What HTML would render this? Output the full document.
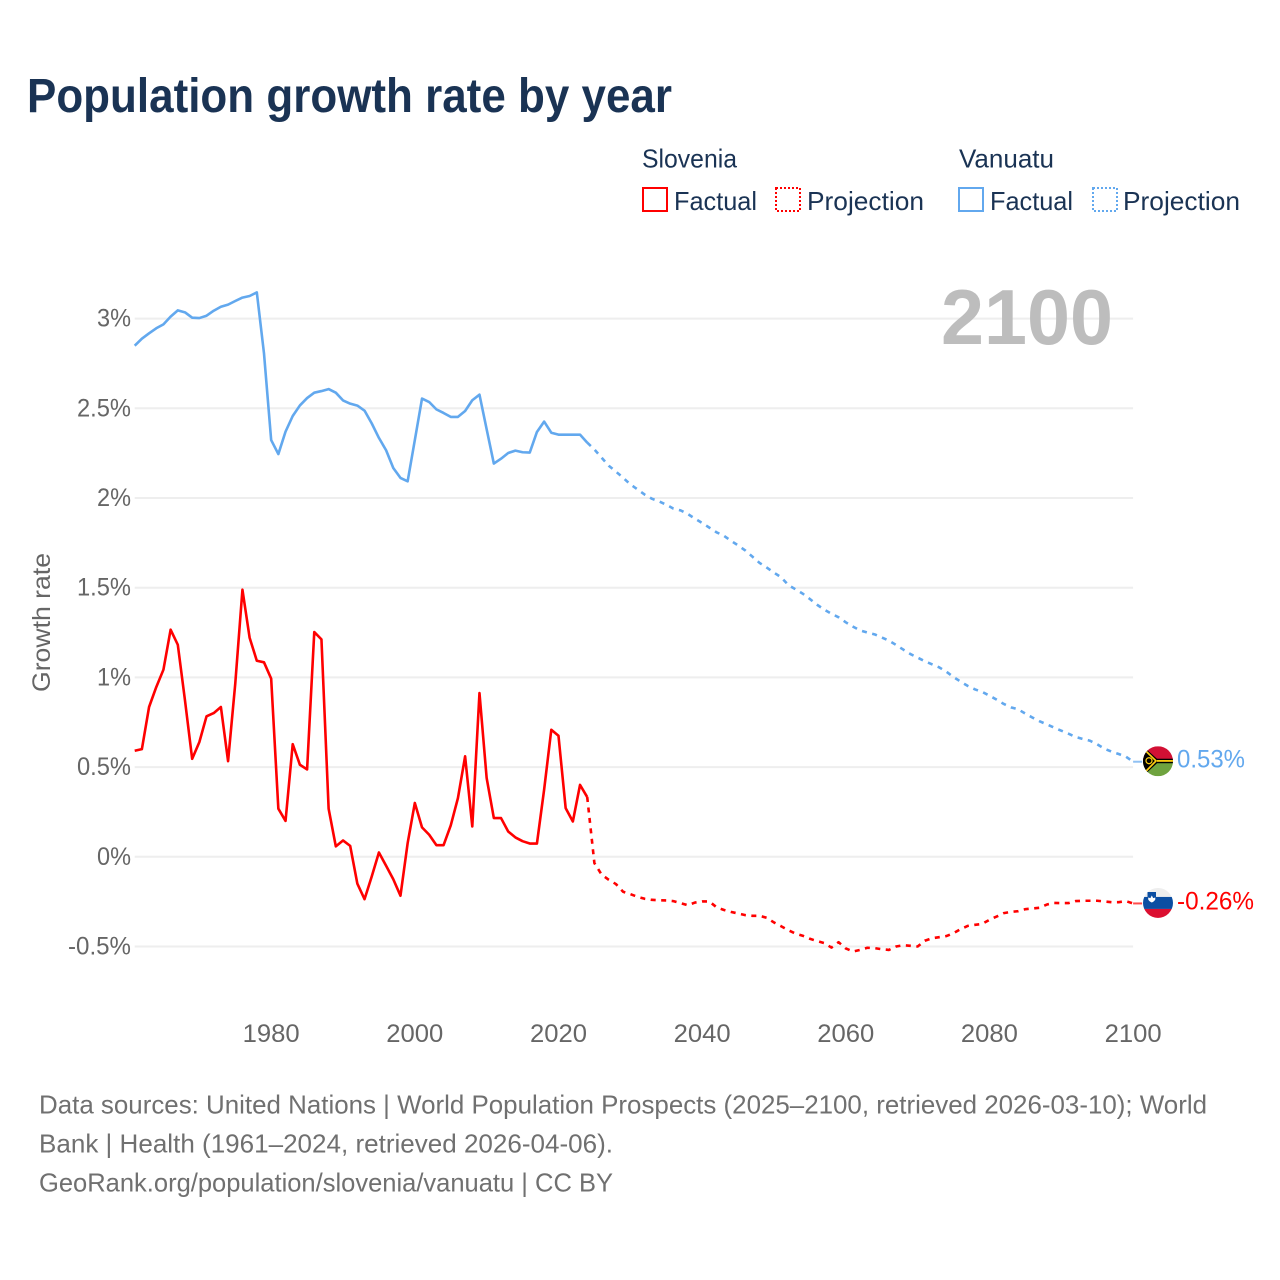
<!DOCTYPE html>
<html lang="en">
<head>
<meta charset="utf-8">
<title>Population growth rate by year</title>
<style>
html,body{margin:0;padding:0;background:#fff;}
svg{display:block;}
text{font-family:"Liberation Sans",sans-serif;}
</style>
</head>
<body>
<svg id="chart" xmlns="http://www.w3.org/2000/svg" width="1280" height="1280" viewBox="0 0 1280 1280">
  <defs>
    <clipPath id="flag-clip"><circle cx="0" cy="0" r="15"></circle></clipPath>
  </defs>
  <rect x="0" y="0" width="1280" height="1280" fill="#fff"></rect>
  <text x="27" y="112" font-size="48" font-weight="700" fill="#1a3354" textLength="645" lengthAdjust="spacingAndGlyphs">Population growth rate by year</text>

  <g font-size="26" fill="#1a3354">
    <text x="642" y="167.5" textLength="95" lengthAdjust="spacingAndGlyphs">Slovenia</text>
    <text x="959" y="167.5" textLength="95" lengthAdjust="spacingAndGlyphs">Vanuatu</text>
    <rect x="643" y="188" width="24" height="23" fill="none" stroke="#ff0000" stroke-width="2"></rect>
    <text x="674" y="210" textLength="83" lengthAdjust="spacingAndGlyphs">Factual</text>
    <rect x="776" y="188" width="24" height="23" fill="none" stroke="#ff0000" stroke-width="2" stroke-dasharray="2 2"></rect>
    <text x="807" y="210" textLength="117" lengthAdjust="spacingAndGlyphs">Projection</text>
    <rect x="959" y="188" width="24" height="23" fill="none" stroke="#62a8ee" stroke-width="2"></rect>
    <text x="990" y="210" textLength="83" lengthAdjust="spacingAndGlyphs">Factual</text>
    <rect x="1093" y="188" width="24" height="23" fill="none" stroke="#62a8ee" stroke-width="2" stroke-dasharray="2 2"></rect>
    <text x="1123" y="210" textLength="117" lengthAdjust="spacingAndGlyphs">Projection</text>
  </g>

  <g id="grid"></g>
  <text x="941" y="344" font-size="78" font-weight="700" fill="#bdbdbd" textLength="172" lengthAdjust="spacingAndGlyphs">2100</text>
  <g id="y-axis"></g>
  <g id="x-axis"></g>
  <text transform="translate(50,692) rotate(-90)" font-size="25" fill="#666" textLength="139" lengthAdjust="spacingAndGlyphs">Growth rate</text>
  <g id="series"></g>

  <g id="flag-vanuatu">
    <g clip-path="url(#flag-clip)">
      <rect x="-15" y="-15" width="30" height="15" fill="#d21034"></rect>
      <rect x="-15" y="0" width="30" height="15" fill="#6fa33f"></rect>
      <rect x="-15" y="-2.5" width="30" height="4.5" fill="#000"></rect>
      <rect x="-5" y="-1.2" width="20" height="1.8" fill="#fdce12"></rect>
      <polygon points="-15,-15 -1,-2.5 -1,2 -15,15" fill="#000"></polygon>
      <polyline points="-14,-12 -2,-0.3 -14,12" fill="none" stroke="#fdce12" stroke-width="1.7"></polyline>
      <circle cx="-9" cy="-0.5" r="3" fill="none" stroke="#fdce12" stroke-width="1.2"></circle>
    </g>
  </g>
  <g id="flag-slovenia">
    <g clip-path="url(#flag-clip)">
      <rect x="-15" y="-15" width="30" height="9" fill="#eeeeee"></rect>
      <rect x="-15" y="-6" width="30" height="12" fill="#0b4ea2"></rect>
      <rect x="-15" y="6" width="30" height="9" fill="#db0f30"></rect>
      <path d="M-10.5,-11 L-2,-11 L-2,-5 Q-2,-1.5 -6.2,0.5 Q-10.5,-1.5 -10.5,-5 Z" fill="#0b4ea2"></path>
      <path d="M-9.8,-5.5 L-7.6,-4.8 L-6.2,-7.5 L-4.8,-4.8 L-2.7,-5.5 L-2.7,-3.5 Q-4,-1.2 -6.2,-0.5 Q-8.5,-1.2 -9.8,-3.5 Z" fill="#ffffff"></path>
    </g>
  </g>
  <g id="end-labels"></g>

  <g font-size="26" fill="#707070">
    <text x="39" y="1113.5" textLength="1168" lengthAdjust="spacingAndGlyphs">Data sources: United Nations | World Population Prospects (2025–2100, retrieved 2026-03-10); World</text>
    <text x="39" y="1152.5" textLength="574" lengthAdjust="spacingAndGlyphs">Bank | Health (1961–2024, retrieved 2026-04-06).</text>
    <text x="39" y="1191.5" textLength="574" lengthAdjust="spacingAndGlyphs">GeoRank.org/population/slovenia/vanuatu | CC BY</text>
  </g>
</svg>
<script>
const factualStartYear = 1961;
const projectionStartYear = 2024;
const xTickYears = [1980, 2000, 2020, 2040, 2060, 2080, 2100];
const yTickValues = [3, 2.5, 2, 1.5, 1, 0.5, 0, -0.5];
const yTickLabels = ["3%", "2.5%", "2%", "1.5%", "1%", "0.5%", "0%", "-0.5%"];

const vanuatuFactual = [2.849,2.888,2.918,2.946,2.968,3.011,3.046,3.035,3.005,3.003,3.016,3.044,3.066,3.078,3.098,3.117,3.126,3.146,2.806,2.323,2.245,2.370,2.457,2.516,2.557,2.587,2.596,2.607,2.587,2.544,2.526,2.515,2.487,2.416,2.335,2.266,2.167,2.112,2.093,2.323,2.554,2.535,2.494,2.474,2.452,2.452,2.485,2.545,2.576,2.383,2.192,2.219,2.251,2.264,2.255,2.253,2.368,2.426,2.364,2.353,2.353,2.353,2.353,2.309];
const vanuatuProjection = [2.309,2.271,2.225,2.18,2.147,2.113,2.076,2.048,2.019,1.996,1.981,1.963,1.941,1.931,1.911,1.885,1.861,1.835,1.809,1.79,1.762,1.736,1.708,1.673,1.638,1.612,1.584,1.558,1.515,1.491,1.467,1.437,1.405,1.378,1.355,1.335,1.307,1.283,1.262,1.25,1.24,1.223,1.205,1.181,1.155,1.13,1.11,1.09,1.073,1.056,1.032,1.002,0.976,0.952,0.933,0.919,0.898,0.876,0.852,0.833,0.822,0.798,0.776,0.755,0.738,0.72,0.703,0.686,0.668,0.657,0.647,0.627,0.603,0.586,0.573,0.558,0.53];
const sloveniaFactual = [0.591,0.6,0.835,0.946,1.043,1.266,1.182,0.872,0.546,0.639,0.783,0.801,0.835,0.533,0.965,1.489,1.221,1.093,1.084,0.993,0.268,0.2,0.628,0.513,0.487,1.253,1.212,0.268,0.058,0.091,0.061,-0.15,-0.236,-0.11,0.024,-0.05,-0.125,-0.217,0.076,0.30,0.164,0.123,0.065,0.065,0.175,0.327,0.56,0.169,0.913,0.439,0.216,0.216,0.141,0.108,0.087,0.074,0.074,0.374,0.708,0.675,0.271,0.197,0.401,0.333];
const sloveniaProjection = [0.333,-0.035,-0.099,-0.128,-0.152,-0.195,-0.208,-0.223,-0.234,-0.24,-0.242,-0.243,-0.247,-0.258,-0.27,-0.255,-0.249,-0.249,-0.281,-0.296,-0.307,-0.316,-0.325,-0.329,-0.329,-0.34,-0.366,-0.387,-0.409,-0.428,-0.44,-0.457,-0.47,-0.481,-0.506,-0.476,-0.511,-0.528,-0.519,-0.507,-0.509,-0.515,-0.519,-0.5,-0.493,-0.496,-0.5,-0.468,-0.454,-0.448,-0.442,-0.426,-0.403,-0.385,-0.379,-0.374,-0.351,-0.333,-0.314,-0.307,-0.303,-0.292,-0.288,-0.284,-0.266,-0.257,-0.258,-0.258,-0.247,-0.245,-0.245,-0.245,-0.249,-0.253,-0.253,-0.247,-0.26];

const BLUE = "#62a8ee";
const RED = "#ff0000";
const NS = "http://www.w3.org/2000/svg";

function xScale(year) { return 134.7 + (year - 1961) * (1133.1 - 134.7) / 139; }
function yScale(v) { return 856.8 - v * 179.4; }

function addText(parent, str, x, y, size, fill, anchor, width) {
  const t = document.createElementNS(NS, "text");
  t.setAttribute("x", x);
  t.setAttribute("y", y);
  t.setAttribute("font-size", size);
  t.setAttribute("fill", fill);
  t.setAttribute("text-anchor", anchor);
  t.setAttribute("textLength", width);
  t.setAttribute("lengthAdjust", "spacingAndGlyphs");
  t.textContent = str;
  parent.appendChild(t);
  return t;
}

function linePath(values, startYear) {
  return values.map(function (v, i) {
    return (i ? "L" : "M") + xScale(startYear + i).toFixed(2) + "," + yScale(v).toFixed(2);
  }).join(" ");
}

function addSeries(values, startYear, color, dashed) {
  const p = document.createElementNS(NS, "path");
  p.setAttribute("d", linePath(values, startYear));
  p.setAttribute("fill", "none");
  p.setAttribute("stroke", color);
  p.setAttribute("stroke-width", "2.6");
  p.setAttribute("stroke-linejoin", "round");
  if (dashed) p.setAttribute("stroke-dasharray", "5 5.5");
  document.getElementById("series").appendChild(p);
  return p;
}

const gridGroup = document.getElementById("grid");
const yAxisGroup = document.getElementById("y-axis");
yTickValues.forEach(function (v, i) {
  const l = document.createElementNS(NS, "line");
  l.setAttribute("x1", xScale(1961));
  l.setAttribute("x2", xScale(2100));
  l.setAttribute("y1", yScale(v));
  l.setAttribute("y2", yScale(v));
  l.setAttribute("stroke", "#eeeeee");
  l.setAttribute("stroke-width", "2");
  
  
  gridGroup.appendChild(l);
  const label = yTickLabels[i];
  const w = label.length === 2 ? 34 : (label.length === 4 ? 54 : 63);
  const t = addText(yAxisGroup, label, 131, yScale(v) + 8, 25, "#666", "end", w);
  
  
});

const xAxisGroup = document.getElementById("x-axis");
xTickYears.forEach(function (year) {
  const t = addText(xAxisGroup, String(year), xScale(year), 1042, 25, "#666", "middle", 57);
  
  
});

const lineVF = addSeries(vanuatuFactual, factualStartYear, BLUE, false);


const lineVP = addSeries(vanuatuProjection, projectionStartYear, BLUE, true);


const lineSF = addSeries(sloveniaFactual, factualStartYear, RED, false);


const lineSP = addSeries(sloveniaProjection, projectionStartYear, RED, true);



function addEndLeader(value, color) {
  const l = document.createElementNS(NS, "line");
  l.setAttribute("x1", xScale(2100));
  l.setAttribute("x2", xScale(2100) + 9);
  l.setAttribute("y1", yScale(value));
  l.setAttribute("y2", yScale(value));
  l.setAttribute("stroke", color);
  l.setAttribute("stroke-width", "2");
  l.setAttribute("opacity", "0.7");
  document.getElementById("series").appendChild(l);
  return l;
}

const vanuatuEnd = vanuatuProjection[vanuatuProjection.length - 1];
const sloveniaEnd = sloveniaProjection[sloveniaProjection.length - 1];

const leaderV = addEndLeader(vanuatuEnd, BLUE);


const leaderS = addEndLeader(sloveniaEnd, RED);



document.getElementById("flag-vanuatu").setAttribute("transform", "translate(1158," + (yScale(vanuatuEnd) - 0.5).toFixed(2) + ")");
document.getElementById("flag-slovenia").setAttribute("transform", "translate(1158," + (yScale(sloveniaEnd) - 0.5).toFixed(2) + ")");

const endGroup = document.getElementById("end-labels");
const endV = addText(endGroup, vanuatuEnd.toFixed(2) + "%", 1177, yScale(vanuatuEnd) + 6, 25, BLUE, "start", 68);


const endS = addText(endGroup, sloveniaEnd.toFixed(2) + "%", 1177, yScale(sloveniaEnd) + 6, 25, RED, "start", 77);


</script>
</body>
</html>
